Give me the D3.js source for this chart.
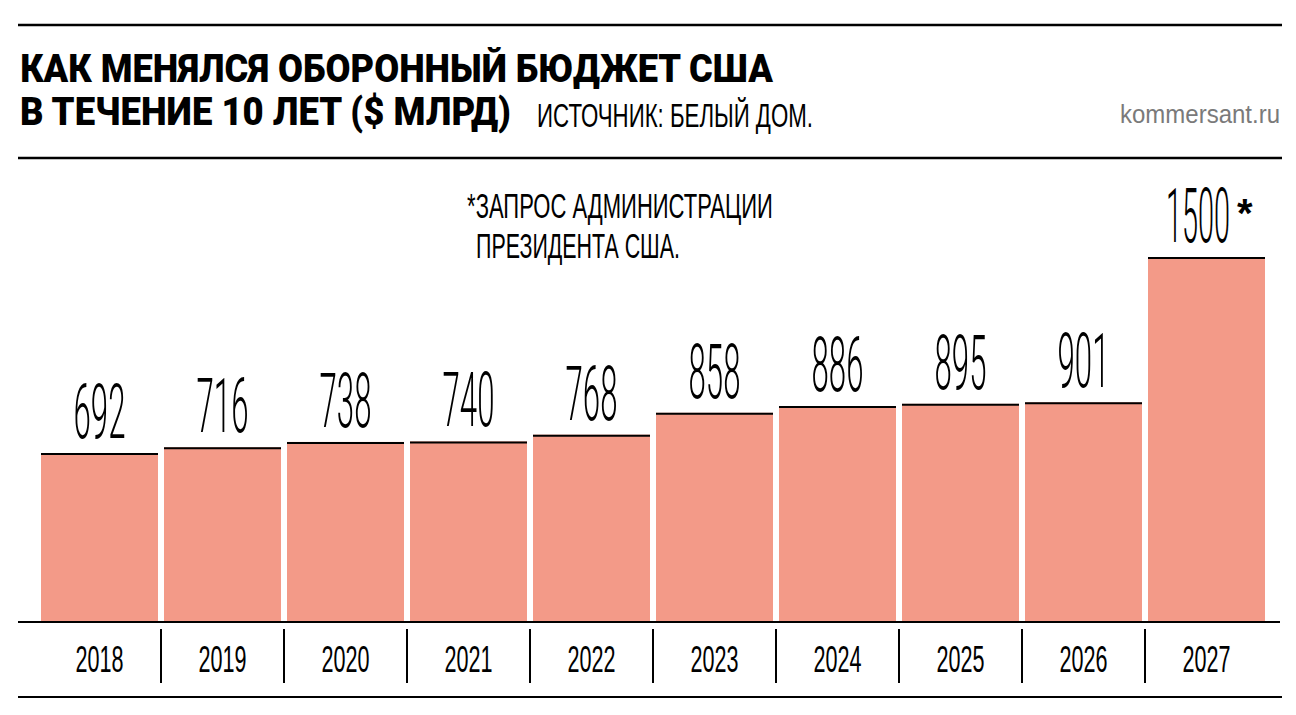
<!DOCTYPE html>
<html><head><meta charset="utf-8">
<script src="https://cdn.jsdelivr.net/npm/d3@7/dist/d3.min.js"></script>
<style>body{margin:0;background:#fff}svg{display:block}</style>
</head><body>
<script>
const years = ["2018","2019","2020","2021","2022","2023","2024","2025","2026","2027"];
const values = [692, 716, 738, 740, 768, 858, 886, 895, 901, 1500];
const valueLabels = ["692","716","738","740","768","858","886","895","901","1500"];
const starred = [false,false,false,false,false,false,false,false,false,true];
const titleLines = ["КАК МЕНЯЛСЯ ОБОРОННЫЙ БЮДЖЕТ США", "В ТЕЧЕНИЕ 10 ЛЕТ ($ МЛРД)"];
const sourceText = "ИСТОЧНИК: БЕЛЫЙ ДОМ.";
const brandText = "kommersant.ru";
const noteLines = ["*ЗАПРОС АДМИНИСТРАЦИИ", "ПРЕЗИДЕНТА США."];

const W = 1296, H = 715;
const svg = d3.select("body").append("svg").attr("width", W).attr("height", H);
const font = "'Liberation Sans', Arial, sans-serif";
const thin = "Roboto, 'Liberation Sans', sans-serif";

const x = d3.scaleBand().domain(years).range([38, 1268]).paddingInner(6/123).paddingOuter(3/123);
const y = d3.scaleLinear().domain([0, 1500]).range([621, 257]);

// Draws a text squeezed horizontally to a target width, using a transform
function squeezed(parent, txt, cx, baseline, size, targetW, attrs) {
  const t = parent.append("text").attr("text-anchor", "middle").attr("font-size", size).text(txt);
  Object.entries(attrs || {}).forEach(([k, v]) => t.attr(k, v));
  const nat = t.node().getComputedTextLength() || targetW;
  t.attr("transform", `translate(${cx},${baseline}) scale(${targetW / nat},1)`);
  return t;
}

// rules
[25, 158].forEach(yy => svg.append("line").attr("x1", 18).attr("x2", 1282).attr("y1", yy).attr("y2", yy)
  .attr("stroke", "#000").attr("stroke-width", 2.5));
svg.append("line").attr("x1", 18).attr("x2", 1282).attr("y1", 697).attr("y2", 697).attr("stroke", "#000").attr("stroke-width", 2);

// title
const tW = [753, 491];
titleLines.forEach((t, i) => squeezed(svg, t, 20 + tW[i] / 2, 82 + i * 43, 38, tW[i],
  {"font-family": thin, "font-weight": 900}));
squeezed(svg, sourceText, 537 + 138, 127, 33, 276, {"font-family": font});
squeezed(svg, brandText, 1200, 123, 25, 160, {"font-family": font, "fill": "#7a7a7a"});

// note
const nX = [467, 476], nY = [218, 258], nW = [306, 204];
noteLines.forEach((t, i) => squeezed(svg, t, nX[i] + nW[i] / 2, nY[i], 35, nW[i], {"font-family": font}));

// bars
const g = svg.append("g");
g.selectAll("rect.bar").data(years).join("rect").attr("class", "bar")
  .attr("x", d => x(d)).attr("width", x.bandwidth())
  .attr("y", (d, i) => y(values[i])).attr("height", (d, i) => y(0) - y(values[i]))
  .attr("fill", "#f39a88");
g.selectAll("line.top").data(years).join("line").attr("class", "top")
  .attr("x1", d => x(d)).attr("x2", d => x(d) + x.bandwidth())
  .attr("y1", (d, i) => y(values[i]) + 1).attr("y2", (d, i) => y(values[i]) + 1)
  .attr("stroke", "#000").attr("stroke-width", 2);

// value labels
years.forEach((d, i) => {
  const lbl = valueLabels[i];
  const w = lbl.length * (lbl.length > 3 ? 16 : 17.3);
  const cx = x(d) + x.bandwidth() / 2 + (starred[i] ? -8.5 : 0);
  squeezed(svg, lbl, cx, y(values[i]) - 15, 76, w, {"font-family": thin, "font-weight": 300});
  if (starred[i]) {
    svg.append("text").attr("x", cx + w / 2 + 7).attr("y", y(values[i]) - 30)
      .attr("font-family", font).attr("font-weight", 700).attr("font-size", 40).text("*");
  }
});

// axis
svg.append("line").attr("x1", 18).attr("x2", 1280).attr("y1", 622).attr("y2", 622).attr("stroke", "#000").attr("stroke-width", 2);
svg.selectAll("line.sep").data(years.slice(0, -1)).join("line").attr("class", "sep")
  .attr("x1", d => x(d) + x.bandwidth() + 3).attr("x2", d => x(d) + x.bandwidth() + 3)
  .attr("y1", 629).attr("y2", 683).attr("stroke", "#000").attr("stroke-width", 2);
years.forEach(d => squeezed(svg, d, x(d) + x.bandwidth() / 2, 672, 37, 48, {"font-family": font, "class": "year"}));
</script>
</body></html>
